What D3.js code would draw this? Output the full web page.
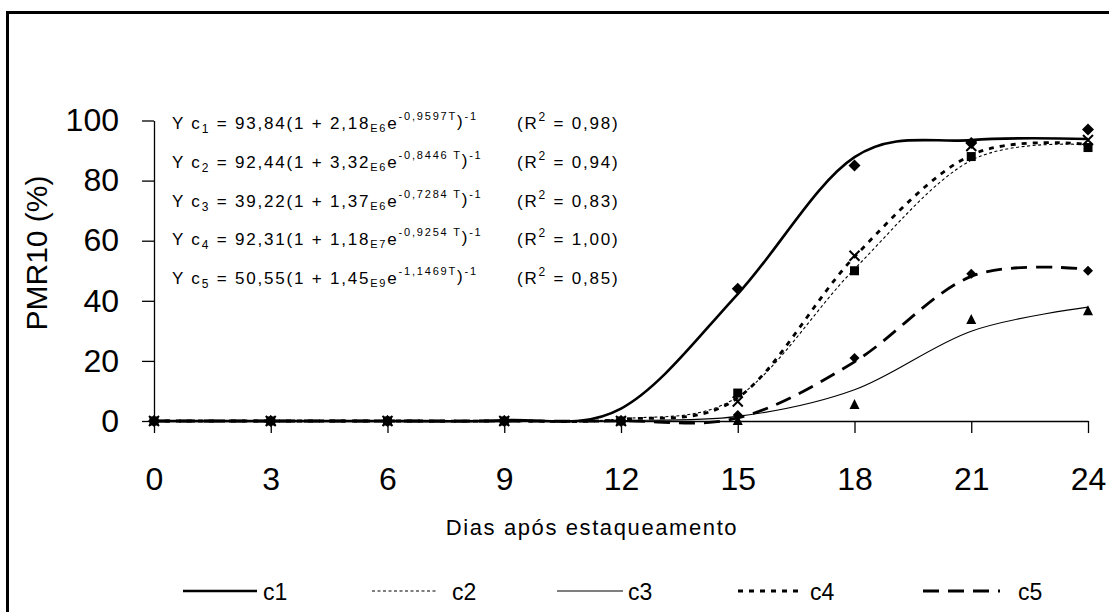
<!DOCTYPE html>
<html>
<head>
<meta charset="utf-8">
<script src="https://cdn.jsdelivr.net/npm/d3@7"></script>
<style>
  body { margin: 0; background: #fff; }
  svg { display: block; }
  text { font-family: "Liberation Sans", Arial, sans-serif; fill: #000; }
</style>
</head>
<body>
<svg id="chart" width="1109" height="612"></svg>
<script>
// Days after planting the cuttings
const days = [0, 3, 6, 9, 12, 15, 18, 21, 24];
const seriesNames = ["c1", "c2", "c3", "c4", "c5"];

// Observed PMR10 (%) per treatment
const obsC1 = [0, 0, 0, 0, 0, 44, 85, 92.5, 97];
const obsC2 = [0, 0, 0, 0, 0, 9.3, 50, 88, 91];
const obsC3 = [0, 0, 0, 0, 0, 0, 5.3, 33.6, 36.5];
const obsC4 = [0, 0, 0, 0, 0, 6.5, 55, 91.5, 93.5];
const obsC5 = [0, 0, 0, 0, 0, 2, 21, 49, 50];

// Fitted logistic values at each day (smoothed line)
const fitC1 = [0, 0, 0.01, 0.24, 4.13, 42.25, 87.8, 93.48, 93.83];
const fitC2 = [0, 0, 0, 0.06, 0.70, 8.07, 50.6, 86.74, 91.96];
const fitC3 = [0, 0, 0, 0.02, 0.18, 1.53, 10.4, 29.9, 37.89];
const fitC4 = [0, 0, 0, 0.03, 0.52, 7.67, 54.65, 88.5, 92.06];
const fitC5 = [0, 0, 0, 0, 0.03, 1.01, 19.69, 48.13, 50.47];

const yTicks = [0, 20, 40, 60, 80, 100];
const xTicks = days;

// Equation parts
const eqA = ["93,84", "92,44", "39,22", "92,31", "50,55"];
const eqB = ["2,18", "3,32", "1,37", "1,18", "1,45"];
const eqE = ["E6", "E6", "E6", "E7", "E9"];
const eqC = ["-0,9597T", "-0,8446 T", "-0,7284 T", "-0,9254 T", "-1,1469T"];
const eqR2 = ["0,98", "0,94", "0,83", "1,00", "0,85"];

const observed = [obsC1, obsC2, obsC3, obsC4, obsC5];
const fitted = [fitC1, fitC2, fitC3, fitC4, fitC5];

const lineStyles = [
  { width: 2.6, dash: null },
  { width: 1.1, dash: "3,2.5" },
  { width: 1.1, dash: null },
  { width: 2.8, dash: "5,6" },
  { width: 2.8, dash: "16,9" }
];
const markers = ["diamond", "square", "triangle", "cross", "smalldiamond"];

const svg = d3.select("#chart");

// Outer frame
svg.append("rect")
  .attr("x", 7.5).attr("y", 12.5)
  .attr("width", 1200).attr("height", 700)
  .attr("fill", "none").attr("stroke", "#000").attr("stroke-width", 3);

const x = d3.scaleLinear().domain([0, 24]).range([154, 1088]);
const y = d3.scaleLinear().domain([0, 100]).range([421, 120.5]);

// Axes
const yAxis = svg.append("g").attr("transform", "translate(154,0)")
  .call(d3.axisLeft(y).tickValues(yTicks).tickSize(12).tickSizeOuter(0).tickPadding(23));
const xAxis = svg.append("g").attr("transform", "translate(0,421)")
  .call(d3.axisBottom(x).tickValues(xTicks).tickSize(12).tickSizeOuter(0).tickPadding(34));
[yAxis, xAxis].forEach(g => {
  g.selectAll("path, line").attr("stroke", "#000").attr("stroke-width", 1.3);
  g.selectAll("text").attr("font-size", 32).attr("font-family", "'Liberation Sans', Arial, sans-serif").attr("fill", "#000");
});

// Axis titles
svg.append("text")
  .attr("transform", "translate(47,253) rotate(-90)")
  .attr("text-anchor", "middle")
  .attr("font-size", 30)
  .text("PMR10 (%)");

svg.append("text")
  .attr("x", 592).attr("y", 535)
  .attr("text-anchor", "middle")
  .attr("font-size", 22)
  .attr("letter-spacing", 1.6)
  .text("Dias após estaqueamento");

// Fitted curves
const line = d3.line()
  .x((d, i) => x(days[i]))
  .y(d => y(d))
  .curve(d3.curveCardinal.tension(0));

const curves = svg.append("g");
fitted.forEach((vals, k) => {
  const st = lineStyles[k];
  curves.append("path")
    .datum(vals)
    .attr("d", line)
    .attr("fill", "none")
    .attr("stroke", "#000")
    .attr("stroke-width", st.width)
    .attr("stroke-dasharray", st.dash);
});

// Observed markers
function drawMarker(g, type, cx, cy) {
  if (type === "diamond") {
    g.append("path").attr("d", `M${cx},${cy - 6}L${cx + 6},${cy}L${cx},${cy + 6}L${cx - 6},${cy}Z`).attr("fill", "#000");
  } else if (type === "smalldiamond") {
    g.append("path").attr("d", `M${cx},${cy - 5}L${cx + 5},${cy}L${cx},${cy + 5}L${cx - 5},${cy}Z`).attr("fill", "#000");
  } else if (type === "square") {
    g.append("rect").attr("x", cx - 4.5).attr("y", cy - 4.5).attr("width", 9).attr("height", 9).attr("fill", "#000");
  } else if (type === "triangle") {
    g.append("path").attr("d", `M${cx},${cy - 6}L${cx + 5},${cy + 4}L${cx - 5},${cy + 4}Z`).attr("fill", "#000");
  } else if (type === "cross") {
    g.append("path").attr("d", `M${cx - 5},${cy - 5}L${cx + 5},${cy + 5}M${cx + 5},${cy - 5}L${cx - 5},${cy + 5}`)
      .attr("stroke", "#000").attr("stroke-width", 2);
  }
}
const marks = svg.append("g");
observed.forEach((vals, k) => {
  vals.forEach((v, i) => drawMarker(marks, markers[k], x(days[i]), y(v)));
});

// Fitted equations
const eqG = svg.append("g").attr("font-size", 17).attr("letter-spacing", 1.8);
function addPiece(t, str, shift, size, state) {
  const dy = shift - state.shift;
  state.shift = shift;
  t.append("tspan").attr("dy", dy).attr("font-size", size).text(str);
}
eqA.forEach((a, i) => {
  const by = 129 + i * 38.8;
  const t = eqG.append("text").attr("x", 172).attr("y", by);
  const s = { shift: 0 };
  addPiece(t, "Y c", 0, 17, s);
  addPiece(t, String(i + 1), 4, 12, s);
  addPiece(t, " = " + a + "(1 + " + eqB[i], 0, 17, s);
  addPiece(t, eqE[i], 3, 11, s);
  addPiece(t, "e", 0, 17, s);
  addPiece(t, eqC[i], -9, 11, s);
  addPiece(t, ")", -2, 17, s);
  addPiece(t, "-1", -9, 11, s);

  const r = eqG.append("text").attr("x", 517).attr("y", by);
  const s2 = { shift: 0 };
  addPiece(r, "(R", 0, 17, s2);
  addPiece(r, "2", -8, 12, s2);
  addPiece(r, " = " + eqR2[i] + ")", 0, 17, s2);
});

// Legend
const legendPos = [
  { x1: 183, x2: 257, tx: 263 },
  { x1: 372, x2: 436, tx: 452 },
  { x1: 557, x2: 623, tx: 628 },
  { x1: 738, x2: 804, tx: 810 },
  { x1: 923, x2: 1000, tx: 1018 }
];
const legend = svg.append("g");
seriesNames.forEach((name, k) => {
  const p = legendPos[k];
  const st = lineStyles[k];
  legend.append("line")
    .attr("x1", p.x1).attr("x2", p.x2).attr("y1", 591).attr("y2", 591)
    .attr("stroke", "#000").attr("stroke-width", st.width)
    .attr("stroke-dasharray", st.dash);
  legend.append("text")
    .attr("x", p.tx).attr("y", 600)
    .attr("font-size", 23)
    .attr("font-family", "'Liberation Sans Narrow', 'Arial Narrow', sans-serif")
    .text(name);
});
</script>
</body>
</html>
